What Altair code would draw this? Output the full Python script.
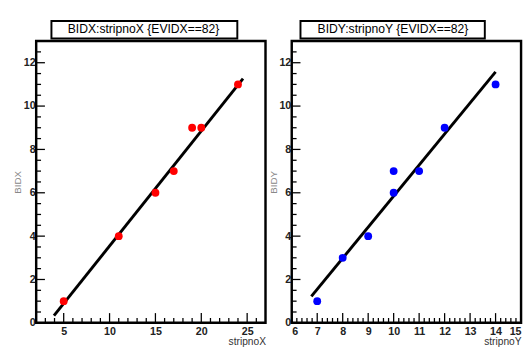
import altair as alt
import pandas as pd
import numpy as np

W, H = 236, 290
FONT = "Liberation Sans"

# ---- data ----
left_title = "BIDX:stripnoX {EVIDX==82}"
right_title = "BIDY:stripnoY {EVIDX==82}"

left_x = [5, 11, 15, 17, 19, 20, 24]
left_y = [1, 4, 6, 7, 9, 9, 11]
left_fit_x = [3.94, 24.55]
left_fit_y = [0.33, 11.27]

right_x = [7, 8, 9, 10, 10, 11, 12, 14]
right_y = [1, 3, 4, 6, 7, 7, 9, 11]
right_fit_x = [6.77, 14.0]
right_fit_y = [1.22, 11.58]

left_xdomain = [2, 27]
right_xdomain = [6, 15]
ydomain = [0, 13]

left_xmajor = [5, 10, 15, 20, 25]
left_xminor = [v for v in range(3, 27) if v not in left_xmajor]
right_xmajor = [6, 7, 8, 9, 10, 11, 12, 13, 14, 15]
right_xminor = [round(v, 1) for v in np.arange(6.2, 15.0, 0.2) if abs(v - round(v)) > 1e-6]
ymajor = [0, 2, 4, 6, 8, 10, 12]
yminor = [0.5, 1, 1.5, 2.5, 3, 3.5, 4.5, 5, 5.5, 6.5, 7, 7.5, 8.5, 9, 9.5,
          10.5, 11, 11.5, 12.5, 13]


def panel(px, py, fx, fy, xdom, xmaj, xmin, xtitle, ytitle, color, title,
          box_x, box_x2, text_x, flush):
    xs = alt.Scale(domain=xdom, nice=False, zero=False)
    ys = alt.Scale(domain=ydomain, nice=False, zero=False)
    xax = alt.Axis(values=xmaj, ticks=False, domain=False, grid=False,
                   labelFont=FONT, labelFontSize=11, labelFontWeight="bold",
                   labelColor="#222", labelPadding=3, labelFlush=flush,
                   title=xtitle, titleAnchor="end", titleFont=FONT,
                   titleFontSize=10.5, titleFontWeight="normal",
                   titleColor="#333", titlePadding=0)
    yax = alt.Axis(values=ymajor, ticks=False, domain=False, grid=False,
                   labelFont=FONT, labelFontSize=11, labelFontWeight="bold",
                   labelColor="#222", labelPadding=1, labelFlush=False,
                   title=ytitle, titleFont=FONT, titleFontSize=10,
                   titleFontWeight="normal", titleColor="#888",
                   titleAngle=270, titleX=-19, titleY=H / 2,
                   titleAlign="center", titleBaseline="middle")

    def X():
        return alt.X("x:Q", scale=xs, axis=xax)

    def Y():
        return alt.Y("y:Q", scale=ys, axis=yax)

    one = pd.DataFrame({"k": [0]})

    frame = alt.Chart(one).mark_rect(fillOpacity=0, stroke="black",
                                     strokeWidth=2.5).encode(
        x=alt.value(0), x2=alt.value(W), y=alt.value(0), y2=alt.value(H))

    xmaj_t = alt.Chart(pd.DataFrame({"x": xmaj})).mark_rule(
        color="black", strokeWidth=1.3).encode(
        x=X(), y=alt.value(H), y2=alt.value(H - 10))
    xmin_t = alt.Chart(pd.DataFrame({"x": xmin})).mark_rule(
        color="black", strokeWidth=1.3).encode(
        x=X(), y=alt.value(H), y2=alt.value(H - 5))
    ymaj_t = alt.Chart(pd.DataFrame({"y": ymajor})).mark_rule(
        color="black", strokeWidth=1.3).encode(
        y=Y(), x=alt.value(0), x2=alt.value(9))
    ymin_t = alt.Chart(pd.DataFrame({"y": yminor})).mark_rule(
        color="black", strokeWidth=1.3).encode(
        y=Y(), x=alt.value(0), x2=alt.value(5))

    fit = alt.Chart(pd.DataFrame({"x": fx, "y": fy})).mark_line(
        color="black", strokeWidth=3).encode(x=X(), y=Y())

    pts = alt.Chart(pd.DataFrame({"x": px, "y": py})).mark_circle(
        size=65, opacity=1, color=color).encode(x=X(), y=Y())

    box = alt.Chart(one).mark_rect(fill="white", stroke="black",
                                   strokeWidth=2).encode(
        x=alt.value(box_x), x2=alt.value(box_x2),
        y=alt.value(-20.7), y2=alt.value(-2.7))
    ttl = alt.Chart(one).mark_text(font=FONT, fontSize=12.5, color="black",
                                   align="center", baseline="middle").encode(
        x=alt.value(text_x), y=alt.value(-12), text=alt.value(title))

    return alt.layer(frame, xmin_t, xmaj_t, ymin_t, ymaj_t, fit, pts, box,
                     ttl).properties(width=W, height=H)


left = panel(left_x, left_y, left_fit_x, left_fit_y, left_xdomain,
             left_xmajor, left_xminor, "stripnoX", "BIDX", "#ff0000",
             left_title, 15.7, 207, 110.5, False)
right = panel(right_x, right_y, right_fit_x, right_fit_y, right_xdomain,
              right_xmajor, right_xminor, "stripnoY", "BIDY", "#0000ff",
              right_title, 9, 198.7, 104.2, True)

chart = alt.hconcat(left, right, spacing=27, bounds="flush").properties(
    padding={"left": 4, "top": 6, "right": 0, "bottom": 0}
).configure_view(stroke=None).configure(font=FONT)

chart.save("out.html", embed_options={"renderer": "svg", "actions": False})
